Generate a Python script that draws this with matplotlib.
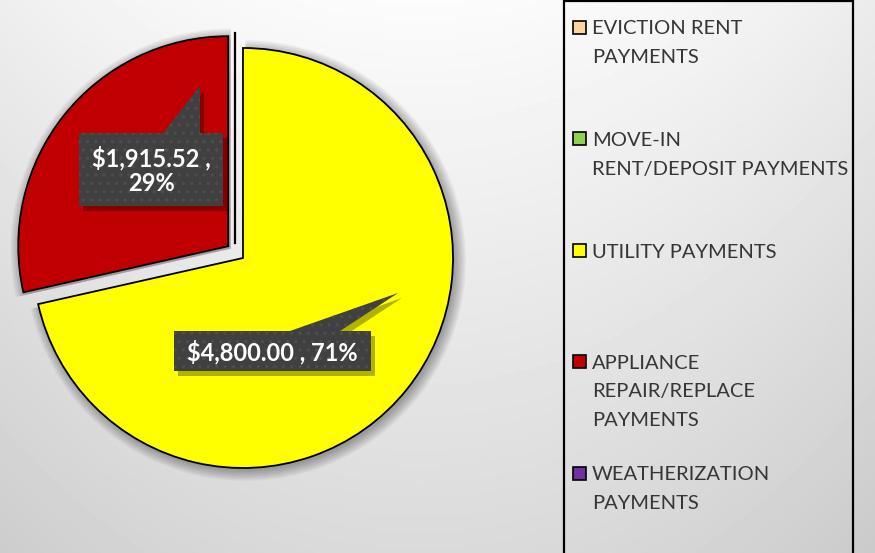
import numpy as np
import matplotlib.pyplot as plt
from matplotlib.patches import Rectangle, Polygon

# data
categories = ['EVICTION RENT\nPAYMENTS',
              'MOVE-IN\nRENT/DEPOSIT PAYMENTS',
              'UTILITY PAYMENTS',
              'APPLIANCE\nREPAIR/REPLACE\nPAYMENTS',
              'WEATHERIZATION\nPAYMENTS']
amounts = [0, 0, 4800.00, 1915.52, 0]
colors = ['#FCD5A0', '#92D050', '#FFFF00', '#C00000', '#7030A0']
explode = [0, 0, 0, 0.09, 0]

W, H = 875, 553
CX, CY, R = 243, 258, 210   # pie centre / radius in pixels

def px(x, y):
    # pixel (from top-left) -> data units
    return (x - CX) / R, (CY - y) / R

plt.rcParams['hatch.linewidth'] = 1.2
fig = plt.figure(figsize=(W / 100, H / 100), dpi=100)
ax = fig.add_axes([0, 0, 1, 1])

# background gradient
xx, yy = np.meshgrid(np.linspace(0, W, 200), np.linspace(0, H, 130))
bg = 0.985 - 0.13 * (yy / H) - 0.06 * ((xx - 420) / 450) ** 2
x0, y0 = px(0, H)
x1, y1 = px(W, 0)
ax.imshow(bg, cmap='gray', vmin=0, vmax=1, extent=[x0, x1, y0, y1],
          origin='upper', aspect='auto', zorder=0)

idx = [i for i, v in enumerate(amounts) if v > 0]
vals = [amounts[i] for i in idx]
cols = [colors[i] for i in idx]
exps = [explode[i] for i in idx]

# soft shadow
for k in range(8):
    ax.pie(vals, colors=['black'] * len(vals), explode=exps, startangle=90,
           counterclock=False, radius=1 + 0.007 * k, center=(0.012, -0.012),
           wedgeprops=dict(alpha=0.045, linewidth=0))

wedges, _ = ax.pie(vals, colors=cols, explode=exps, startangle=90,
                   counterclock=False,
                   wedgeprops=dict(edgecolor='black', linewidth=1.3))

lx, ly0 = px(235, 33)
_, ly1 = px(235, 243)
ax.plot([lx, lx], [ly0, ly1], color='black', lw=1.6, zorder=3)

# data labels (callouts)
total = sum(vals)
boxes = {2: dict(box=(174, 331, 371, 371), base=(290, 340), tip=(398, 293), wrap=False),
         3: dict(box=(79, 133, 223, 206), base=(163, 200), tip=(200, 86), wrap=True)}
for i in idx:
    b = boxes[i]
    pct = amounts[i] / total * 100
    sep = ' ,\n' if b['wrap'] else ' , '
    txt = '${:,.2f}{}{:.0f}%'.format(amounts[i], sep, pct)
    bx0, by0, bx1, by1 = b['box']
    shape = [(bx0, by0), (b['base'][0], by0), b['tip'], (b['base'][1], by0),
             (bx1, by0), (bx1, by1), (bx0, by1)]
    sh = Polygon([px(x + 4, y + 5) for x, y in shape], closed=True,
                 facecolor='black', alpha=0.3, lw=0, zorder=4)
    ax.add_patch(sh)
    pg = Polygon([px(x, y) for x, y in shape], closed=True,
                 facecolor='#404040', edgecolor='#4d4d4d', hatch='..',
                 lw=0, zorder=5)
    ax.add_patch(pg)
    tx, ty = px((bx0 + bx1) / 2, (by0 + by1) / 2 + 1)
    ax.text(tx, ty, txt, ha='center', va='center', color='white',
            fontsize=17, fontweight='bold', family='Lato', zorder=6,
            linespacing=1.1, multialignment='center')

ax.set_xlim(x0, x1)
ax.set_ylim(y0, y1)
ax.axis('off')

# legend
def fx(x):
    return x / W
def fy(y):
    return 1 - y / H

leg = Rectangle((fx(564), fy(560)), fx(853) - fx(564), fy(1) - fy(560),
                transform=fig.transFigure, facecolor='none', edgecolor='black',
                lw=1.6, zorder=10)
fig.add_artist(leg)
for k, (name, c) in enumerate(zip(categories, colors)):
    yc = 27 + k * 111.5
    sq = Rectangle((fx(573), fy(yc + 6.5)), fx(13), 13 / H,
                   transform=fig.transFigure, facecolor=c, edgecolor='black',
                   lw=1.2, zorder=11)
    fig.add_artist(sq)
    for j, line in enumerate(name.split('\n')):
        fig.text(fx(592), fy(yc + 2 + j * 28.5), line, ha='left', va='center',
                 fontsize=14.5, color='#363636', family='Lato')

fig.savefig('out.png', dpi=100)
